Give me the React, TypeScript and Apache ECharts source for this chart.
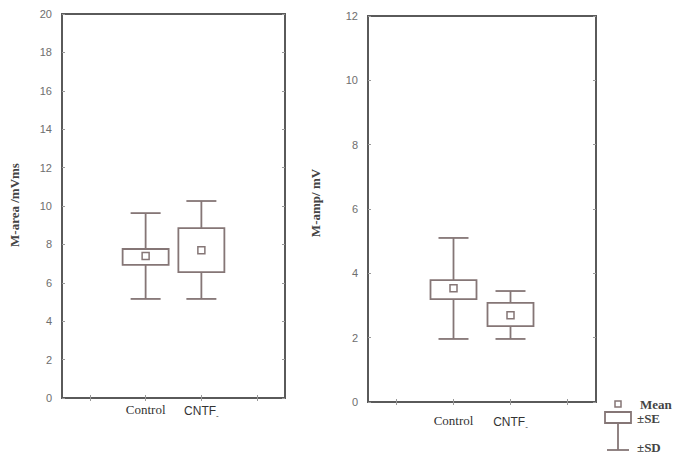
import React, { useEffect, useRef } from "react";
import * as echarts from "echarts";

const categories = ["", "Control", "CNTF", ""];
// [categoryIndex, -SD, -SE, mean, +SE, +SD]
const areaStats = [
  [1, 5.16, 6.93, 7.4, 7.76, 9.63],
  [2, 5.16, 6.56, 7.7, 8.85, 10.26],
];
const ampStats = [
  [1, 1.96, 3.2, 3.54, 3.79, 5.1],
  [2, 1.96, 2.36, 2.7, 3.08, 3.45],
];
const areaTicks = { min: 0, max: 20, interval: 2 };
const ampTicks = { min: 0, max: 12, interval: 2 };
const yTitles = ["M-area /mVms", "M-amp/ mV"];
const legendLabels = ["Mean", "±SE", "±SD"];

const BOX = "#857676";
const AXIS = "#5a5a5a";
const SERIF = "'Liberation Serif', 'DejaVu Serif', serif";
const SANS = "'Liberation Sans', Arial, sans-serif";

function renderBox(params: any, api: any) {
  const x = api.value(0);
  const pSdLo = api.coord([x, api.value(1)]);
  const pSeLo = api.coord([x, api.value(2)]);
  const pMean = api.coord([x, api.value(3)]);
  const pSeHi = api.coord([x, api.value(4)]);
  const pSdHi = api.coord([x, api.value(5)]);
  const cx = pMean[0];
  const bw = 46;
  const cw = 30;
  const ms = 7;
  const ls = { stroke: BOX, lineWidth: 1.8, fill: "none" };
  return {
    type: "group",
    children: [
      { type: "line", shape: { x1: cx, y1: pSdHi[1], x2: cx, y2: pSeHi[1] }, style: ls },
      { type: "line", shape: { x1: cx, y1: pSeLo[1], x2: cx, y2: pSdLo[1] }, style: ls },
      { type: "line", shape: { x1: cx - cw / 2, y1: pSdHi[1], x2: cx + cw / 2, y2: pSdHi[1] }, style: ls },
      { type: "line", shape: { x1: cx - cw / 2, y1: pSdLo[1], x2: cx + cw / 2, y2: pSdLo[1] }, style: ls },
      {
        type: "rect",
        shape: { x: cx - bw / 2, y: pSeHi[1], width: bw, height: pSeLo[1] - pSeHi[1] },
        style: { stroke: BOX, lineWidth: 1.8, fill: "#fff" },
      },
      {
        type: "rect",
        shape: { x: cx - ms / 2, y: pMean[1] - ms / 2, width: ms, height: ms },
        style: { stroke: BOX, lineWidth: 1.5, fill: "#fff" },
      },
    ],
  };
}

export default function App() {
  const ref = useRef<HTMLDivElement>(null);
  useEffect(() => {
    if (!ref.current) return;
    const chart = echarts.init(ref.current, null, { renderer: "svg" });
    const grids = [
      { left: 62, top: 14, width: 223, height: 384, show: true, borderColor: AXIS, borderWidth: 2, backgroundColor: "transparent" },
      { left: 368, top: 16, width: 228, height: 386, show: true, borderColor: AXIS, borderWidth: 2, backgroundColor: "transparent" },
    ];
    const labelMargins = [5, 12];
    const ticks = [areaTicks, ampTicks];
    const tickStyle = { show: true, inside: true, length: 3, lineStyle: { color: "#999" } };
    const xAxis: any[] = [];
    const yAxis: any[] = [];
    grids.forEach((g, i) => {
      xAxis.push({
        type: "category",
        gridIndex: i,
        data: categories,
        boundaryGap: true,
        axisLine: { show: false },
        axisTick: { ...tickStyle, alignWithLabel: true },
        axisLabel: {
          margin: labelMargins[i],
          interval: 0,
          formatter: (v: string) => (v === "CNTF" ? "{a|CNTF}{sub|-}" : v === "" ? "" : "{s|" + v + "}"),
          rich: {
            s: { fontFamily: SERIF, fontSize: 13, color: "#333" },
            a: { fontFamily: SANS, fontSize: 12, color: "#333" },
            sub: { fontFamily: SANS, fontSize: 8, color: "#333", verticalAlign: "bottom", padding: [8, 0, 0, 0] },
          },
        },
      });
      xAxis.push({
        type: "category",
        gridIndex: i,
        position: "top",
        data: categories,
        axisLine: { show: false },
        axisTick: { ...tickStyle, alignWithLabel: true },
        axisLabel: { show: false },
      });
      yAxis.push({
        type: "value",
        gridIndex: i,
        min: ticks[i].min,
        max: ticks[i].max,
        interval: ticks[i].interval,
        splitLine: { show: false },
        axisLine: { show: false },
        axisTick: tickStyle,
        axisLabel: { margin: 10, fontFamily: SANS, fontSize: 11, color: "#6e6e6e" },
      });
      yAxis.push({
        type: "value",
        gridIndex: i,
        position: "right",
        min: ticks[i].min,
        max: ticks[i].max,
        interval: ticks[i].interval,
        splitLine: { show: false },
        axisLine: { show: false },
        axisTick: tickStyle,
        axisLabel: { show: false },
      });
    });

    const titleStyle = { fontFamily: SERIF, fontSize: 13, fontWeight: "bold", fill: "#444" };
    const legText = { fontFamily: SERIF, fontSize: 13, fontWeight: "bold", fill: "#444", verticalAlign: "middle" };
    chart.setOption({
      animation: false,
      backgroundColor: "#fff",
      grid: grids,
      xAxis,
      yAxis,
      series: [
        { type: "custom", xAxisIndex: 0, yAxisIndex: 0, renderItem: renderBox, data: areaStats },
        { type: "custom", xAxisIndex: 2, yAxisIndex: 2, renderItem: renderBox, data: ampStats },
      ],
      graphic: [
        { type: "text", x: 14, y: 205, rotation: Math.PI / 2, style: { ...titleStyle, text: yTitles[0], align: "center", verticalAlign: "middle" } },
        { type: "text", x: 315, y: 203, rotation: Math.PI / 2, style: { ...titleStyle, text: yTitles[1], align: "center", verticalAlign: "middle" } },
        { type: "rect", shape: { x: 615, y: 401, width: 6, height: 6 }, style: { stroke: BOX, lineWidth: 1.5, fill: "#fff" } },
        { type: "rect", shape: { x: 605, y: 412, width: 26, height: 11 }, style: { stroke: BOX, lineWidth: 1.8, fill: "#fff" } },
        { type: "line", shape: { x1: 618, y1: 423, x2: 618, y2: 450 }, style: { stroke: BOX, lineWidth: 1.8 } },
        { type: "line", shape: { x1: 607, y1: 450, x2: 629, y2: 450 }, style: { stroke: BOX, lineWidth: 1.8 } },
        { type: "text", x: 640, y: 404, style: { ...legText, text: legendLabels[0] } },
        { type: "text", x: 637, y: 418, style: { ...legText, text: legendLabels[1] } },
        { type: "text", x: 637, y: 447, style: { ...legText, text: legendLabels[2] } },
      ],
    });
    return () => chart.dispose();
  }, []);
  return <div ref={ref} style={{ width: 675, height: 456, position: "absolute", left: 0, top: 0 }} />;
}
